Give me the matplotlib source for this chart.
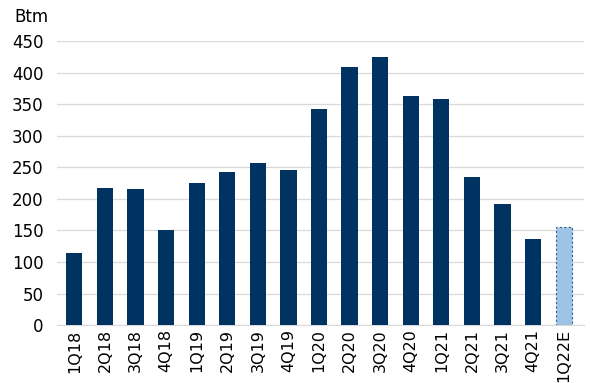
import numpy as np
import matplotlib.pyplot as plt

quarters = ["1Q18", "2Q18", "3Q18", "4Q18", "1Q19", "2Q19", "3Q19", "4Q19",
            "1Q20", "2Q20", "3Q20", "4Q20", "1Q21", "2Q21", "3Q21", "4Q21", "1Q22E"]
values = [115, 217, 215, 150, 225, 242, 257, 246,
          342, 409, 425, 363, 358, 235, 192, 137, 155]
is_estimate = [False] * 16 + [True]

DARK = "#003262"
LIGHT = "#9dc3e6"

fig = plt.figure(figsize=(5.9, 3.83), dpi=100)
ax = fig.add_axes([0.097, 0.151, 0.893, 0.742])

x = np.arange(len(quarters))
colors = [LIGHT if e else DARK for e in is_estimate]
bars = ax.bar(x, values, width=0.53, color=colors, zorder=3)
for b, e in zip(bars, is_estimate):
    if e:
        b.set_edgecolor("#2f5f8f")
        b.set_linestyle((0, (2, 2)))
        b.set_linewidth(0.8)

ax.set_ylim(0, 450)
ax.set_xlim(-0.56, len(quarters) - 0.33)
ax.set_yticks(range(0, 451, 50))
ax.yaxis.grid(True, color="#d9d9d9", lw=0.9, zorder=0)
for s in ["top", "right", "left"]:
    ax.spines[s].set_visible(False)
ax.spines["bottom"].set_color("#d9d9d9")
ax.tick_params(length=0, colors="black")
ax.tick_params(axis="y", pad=10, labelsize=12)
ax.tick_params(axis="x", pad=3, labelsize=11.5)
ax.set_xticks(x)
ax.set_xticklabels(quarters, rotation=90)

fig.text(0.025, 0.955, "Btm", fontsize=12, va="center", ha="left")

fig.savefig("out.png", dpi=100)
